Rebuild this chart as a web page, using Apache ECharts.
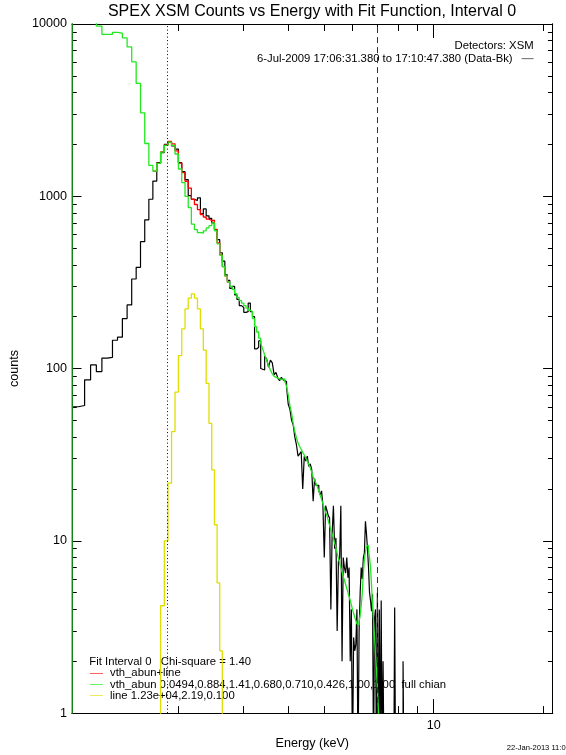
<!DOCTYPE html>
<html>
<head>
<meta charset="utf-8">
<script src="https://cdn.jsdelivr.net/npm/echarts@6/dist/echarts.min.js"></script>
<style>
  html, body { margin: 0; padding: 0; background: #fff; }
  #chart { width: 566px; height: 755px; }
</style>
</head>
<body>
<div id="chart"></div>
<script>
// Energy grid of the spectrum (keV): uniform bins starting at binStart
const binStart = 1.02;
const binWidth = 0.0425;
const energyMin = 1.02;
const energyMax = 21.2;

// Background-subtracted counts per bin, starting at bin 0
const dataCounts = [
  60, 61, 86, 105, 96, 115, 116, 146, 152, 195,
  234, 331, 387, 545, 730, 961, 1225, 1566, 1790, 2000,
  2065, 1960, 1880, 1570, 1390, 1250, 1010, 960, 945, 980,
  790, 845, 770, 745, 700, 640, 560, 470, 420, 350,
  325, 292, 300, 268, 252, 232, 226, 212, 214, 240,
  214, 200, 130, 133, 145, 100, 98, 118, 114, 102,
  112, 108, 92, 95, 88, 85, 89, 86, 84, 78,
  62, 58, 50, 47, 40, 36, 31, 32, 33, 20,
  31, 29, 31, 27, 28, 26, 17, 23, 21, 21,
  19.5, 18.5, 19.5, 16, 8, 16, 15, 14, 13.6, 4,
  11, 16, 9, 10.4, 3, 7.6, 8, 16, 2, 8,
  7, 6.5, 8, 6.1, 7, 2, 4, 0.5, 2.75, 2.3,
  2.5, 4, 0.5, 3, 5, 7, 6, 8, 8.5, 13,
  11, 9, 7, 5, 4.5, 3.9, 4.9, 0.5, 3.5, 4,
  0.5, 5, 0.5, 4, 0.5, 4.5, 0.5, 2, 0.5, 1,
  0.5, 0.5, 0.5, 0.5, 0.5, 0.5, 0.5, 0.5, 0.5, 0.5,
  4.1, 0.5, 0.5, 0.5, 0.5, 0.5, 0.5, 0.5, 0.5, 0.5,
  2, 0.5
];

// Thermal continuum model (vth_abun), starting at bin 0
const vthAbun = [
  12500, 12000, 11500, 11000, 9730, 8700, 8700, 8950, 8850, 8300,
  7360, 6030, 4520, 3050, 2025, 1511, 1400, 1552, 1804, 1973,
  2061, 1973, 1760, 1440, 1200, 1000, 860, 690, 640, 615,
  612, 630, 655, 675, 700, 630, 530, 455, 390, 345,
  318, 300, 288, 272, 258, 248, 240, 232, 224, 218,
  214, 195, 175, 163, 150, 140, 130, 120, 112, 104,
  98, 93, 90, 88, 87, 86.5, 86.5, 87, 84, 79,
  70, 61, 55, 48, 43, 39.5, 37, 35.3, 34, 32.6,
  31.5, 30.2, 29, 27.8, 26.5, 25, 23.5, 22.5, 21.5, 20.5,
  19.5, 18.4, 17.4, 16.4, 15.5, 14.6, 14.0, 13.1, 12.3, 11.6,
  10.9, 10.4, 9.7, 9.1, 8.5, 7.9, 7.4, 7.0, 6.6, 6.2,
  5.9, 5.6, 5.3, 5.0, 4.75, 4.5, 4.25, 4.0, 3.8, 3.6,
  3.45, 3.3, 3.25, 3.4, 3.7, 4.2, 5.0, 6.5, 7.8, 8.6,
  9.3, 9.4, 8.8, 8.0, 7.0, 5.5, 4.2, 3.5, 2.8, 2.2,
  1.8, 1.4, 1.05, 0.8, 0.6
];

// Total model (vth_abun + line) where the line adds to the continuum
const vthAbunLineFirstBin = 16;
const vthAbunLine = [
  1400, 1553, 1808, 1983, 2083, 2016, 1833, 1559, 1370, 1222,
  1116, 961, 896, 837, 782, 758, 737, 723, 726, 642,
  536, 457, 390, 345, 318
];

// Gaussian line component
const lineFirstBin = 17;
const lineOnly = [
  0.5, 4.2, 10, 21.6, 43, 73, 119, 170, 222, 256,
  271, 256, 222, 170, 128, 82, 48, 25.8, 12.4, 5.7,
  2.3, 0.6
];

// Fit interval boundaries (keV)
const fitLow = 1.86;
const fitHigh = 7.0;

// Axis ticks
const xMajorTicks = [10];
const xMinorTicks = [2, 3, 4, 5, 6, 7, 8, 9, 20];
const yMajorTicks = [1, 10, 100, 1000, 10000];
const yMinorTicks = [
  2, 3, 4, 5, 6, 7, 8, 9,
  20, 30, 40, 50, 60, 70, 80, 90,
  200, 300, 400, 500, 600, 700, 800, 900,
  2000, 3000, 4000, 5000, 6000, 7000, 8000, 9000
];

// Names shown in the legends
const dataName = '6-Jul-2009 17:06:31.380 to 17:10:47.380 (Data-Bk)';
const totalName = 'vth_abun+line';
const thermalName = 'vth_abun 0.0494,0.884,1.41,0.680,0.710,0.426,1.00,1.00  full chian';
const lineName = 'line 1.23e+04,2.19,0.100';

const FLOOR = 0.05;   // stands in for zero on the log axis (drawn below the frame)
const FONT = '"Liberation Sans", Arial, Helvetica, sans-serif';

function edge(k) { return binStart + k * binWidth; }

// Turn per-bin values into histogram vertices for a step('end') line
function histogram(firstBin, values, riseFromFloor, dropToFloor) {
  const pts = [];
  if (riseFromFloor) pts.push([edge(firstBin), FLOOR]);
  values.forEach((v, i) => pts.push([edge(firstBin + i), v]));
  const lastEdge = edge(firstBin + values.length);
  pts.push([lastEdge, values[values.length - 1]]);
  if (dropToFloor) pts.push([lastEdge, FLOOR]);
  return pts;
}

const chart = echarts.init(document.getElementById('chart'), null, { renderer: 'canvas' });

function xAxisDef(position, ticks, len, withLabel) {
  return {
    type: 'log', logBase: 10, min: energyMin, max: energyMax,
    position: position, gridIndex: 0,
    axisLine: { show: true, onZero: false, lineStyle: { color: '#000', width: 1 } },
    axisTick: { show: true, inside: true, length: len, customValues: ticks,
                lineStyle: { color: '#000', width: 1 } },
    axisLabel: withLabel ? {
      show: true, customValues: ticks, margin: 6, color: '#000',
      fontSize: 12.6, fontFamily: FONT, formatter: v => String(v)
    } : { show: false },
    splitLine: { show: false },
    minorTick: { show: false }, minorSplitLine: { show: false }
  };
}
function yAxisDef(position, ticks, len, withLabel) {
  return {
    type: 'log', logBase: 10, min: 1, max: 10000,
    position: position, gridIndex: 0,
    axisLine: { show: true, onZero: false, lineStyle: { color: '#000', width: 1 } },
    axisTick: { show: true, inside: true, length: len, customValues: ticks,
                lineStyle: { color: '#000', width: 1 } },
    axisLabel: withLabel ? {
      show: true, customValues: ticks, margin: 5, color: '#000',
      fontSize: 12.6, fontFamily: FONT, formatter: v => String(v)
    } : { show: false },
    splitLine: { show: false },
    minorTick: { show: false }, minorSplitLine: { show: false }
  };
}

const xAxes = [
  Object.assign(xAxisDef('bottom', xMajorTicks, 14, true), {
    name: 'Energy (keV)', nameLocation: 'middle', nameGap: 19,
    nameTextStyle: { color: '#000', fontSize: 12.6, fontFamily: FONT }
  }),
  xAxisDef('bottom', xMinorTicks, 7, false),
  xAxisDef('top', xMajorTicks, 14, false),
  xAxisDef('top', xMinorTicks, 7, false)
];
const yAxes = [
  Object.assign(yAxisDef('left', yMajorTicks, 9.6, true), {
    name: 'counts', nameLocation: 'middle', nameGap: 43,
    nameTextStyle: { color: '#000', fontSize: 12.6, fontFamily: FONT }
  }),
  yAxisDef('left', yMinorTicks, 4.8, false),
  yAxisDef('right', yMajorTicks, 9.6, false),
  yAxisDef('right', yMinorTicks, 4.8, false)
];

const lineIcon = 'path://M0,0L20,0L20,1L0,1Z';

const option = {
  animation: false,
  backgroundColor: '#fff',
  title: {
    text: 'SPEX XSM Counts vs Energy with Fit Function, Interval 0',
    left: 312, top: 4, padding: 0, textAlign: 'center',
    textStyle: { color: '#000', fontSize: 16, fontWeight: 'normal', fontFamily: FONT }
  },
  grid: { left: 71, right: 13.3, top: 24, bottom: 39, containLabel: false },
  xAxis: xAxes,
  yAxis: yAxes,
  legend: [
    {
      data: [dataName],
      orient: 'vertical', align: 'right',
      right: 32.4, top: 53.2, padding: 0, itemGap: 0,
      itemWidth: 12, itemHeight: 1.6, icon: lineIcon,
      selectedMode: false, z: 1,
      textStyle: { color: '#000', fontSize: 11.3, fontFamily: FONT, lineHeight: 11.2,
                   padding: [0, 4, 0, 0] }
    },
    {
      data: [totalName, thermalName, lineName],
      orient: 'vertical', align: 'left',
      left: 90, top: 667.7, padding: 0, itemGap: 0,
      itemWidth: 13, itemHeight: 1.8, icon: lineIcon,
      selectedMode: false, z: 1,
      textStyle: { color: '#000', fontSize: 11.3, fontFamily: FONT, lineHeight: 11.2,
                   padding: [0, 0, 0, 2] }
    }
  ],
  graphic: [
    {
      type: 'text', z: 0, silent: true,
      style: { x: 533.6, y: 46, text: 'Detectors: XSM', align: 'right', verticalAlign: 'middle',
               fill: '#000', font: '11.3px ' + FONT }
    },
    {
      type: 'text', z: 0, silent: true,
      style: { x: 89.3, y: 662.3, text: 'Fit Interval 0   Chi-square = 1.40', align: 'left',
               verticalAlign: 'middle', fill: '#000', font: '11.3px ' + FONT }
    },
    {
      type: 'text', z: 0, silent: true,
      style: { x: 506.7, y: 748, text: '22-Jan-2013 11:0', align: 'left',
               verticalAlign: 'middle', fill: '#000', font: '7.6px ' + FONT }
    }
  ],
  series: [
    {
      name: dataName, type: 'line', step: 'end', xAxisIndex: 0, yAxisIndex: 0,
      data: histogram(0, dataCounts, false, true),
      symbol: 'none', clip: true, color: '#000',
      lineStyle: { color: '#000', width: 1.2 },
      markLine: {
        silent: true, symbol: 'none', label: { show: false },
        data: [
          { xAxis: fitLow, lineStyle: { color: '#000', width: 1, type: [1, 2.5] } },
          { xAxis: fitHigh, lineStyle: { color: '#333', width: 1, type: [6, 4] } }
        ]
      }
    },
    {
      name: totalName, type: 'line', step: 'end', xAxisIndex: 0, yAxisIndex: 0,
      data: histogram(vthAbunLineFirstBin, vthAbunLine, false, false),
      symbol: 'none', clip: true, color: '#ff0000',
      lineStyle: { color: '#ff0000', width: 1.3 }
    },
    {
      name: thermalName, type: 'line', step: 'end', xAxisIndex: 0, yAxisIndex: 0,
      data: histogram(0, vthAbun, true, true),
      symbol: 'none', clip: true, color: '#22e822',
      lineStyle: { color: '#22e822', width: 1.3 }
    },
    {
      name: lineName, type: 'line', step: 'end', xAxisIndex: 0, yAxisIndex: 0,
      data: histogram(lineFirstBin, lineOnly, true, true),
      symbol: 'none', clip: true, color: '#dede00',
      lineStyle: { color: '#dede00', width: 1.3 }
    }
  ]
};

chart.setOption(option);
</script>
</body>
</html>
